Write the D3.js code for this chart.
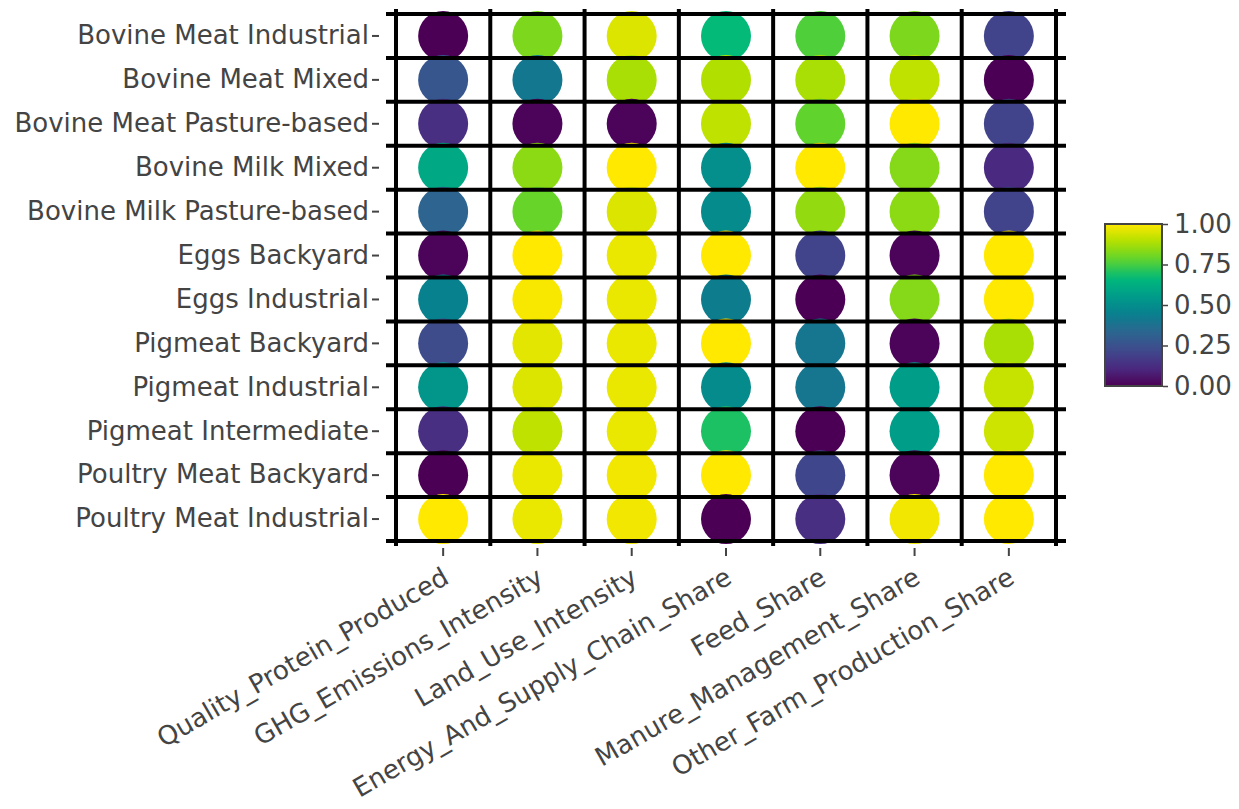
<!DOCTYPE html>
<html>
<head>
<meta charset="utf-8">
<script src="https://cdn.jsdelivr.net/npm/d3@7"></script>
<style>
  body { margin: 0; background: #fff; }
  text { font-family: Verdana, "DejaVu Sans", sans-serif; fill: #444; }
</style>
</head>
<body>
<svg id="chart" width="1239" height="809"></svg>
<script>
// rows (systems), top to bottom
const systems = [
  'Bovine Meat Industrial', 'Bovine Meat Mixed', 'Bovine Meat Pasture-based',
  'Bovine Milk Mixed', 'Bovine Milk Pasture-based', 'Eggs Backyard',
  'Eggs Industrial', 'Pigmeat Backyard', 'Pigmeat Industrial',
  'Pigmeat Intermediate', 'Poultry Meat Backyard', 'Poultry Meat Industrial'
];

const metrics = [
  'Quality_Protein_Produced', 'GHG_Emissions_Intensity', 'Land_Use_Intensity',
  'Energy_And_Supply_Chain_Share', 'Feed_Share', 'Manure_Management_Share',
  'Other_Farm_Production_Share'
];

// normalised scores, one array per metric, same order as systems
const qualityProtein = [0.00, 0.27, 0.13, 0.60, 0.33, 0.01, 0.45, 0.23, 0.53, 0.13, 0.00, 1.00];
const ghgIntensity   = [0.82, 0.41, 0.01, 0.84, 0.79, 1.00, 0.99, 0.96, 0.95, 0.91, 0.97, 0.97];
const landUse        = [0.95, 0.88, 0.01, 1.00, 0.95, 0.97, 0.97, 0.97, 0.97, 0.97, 0.98, 0.98];
const energySupply   = [0.67, 0.89, 0.91, 0.50, 0.49, 1.00, 0.43, 1.00, 0.49, 0.70, 1.00, 0.00];
const feedShare      = [0.76, 0.88, 0.78, 1.00, 0.85, 0.20, 0.00, 0.40, 0.40, 0.00, 0.21, 0.13];
const manureShare    = [0.82, 0.91, 1.00, 0.83, 0.84, 0.01, 0.83, 0.01, 0.56, 0.56, 0.01, 0.98];
const otherFarm      = [0.20, 0.00, 0.20, 0.11, 0.20, 1.00, 1.00, 0.88, 0.92, 0.93, 1.00, 1.00];

const columns = [qualityProtein, ghgIntensity, landUse, energySupply, feedShare, manureShare, otherFarm];

const cbTicks = [0, 0.25, 0.5, 0.75, 1];

// flatten into cells
const cells = [];
metrics.forEach((m, j) => {
  systems.forEach((s, i) => cells.push({ system: s, metric: m, value: columns[j][i] }));
});

const svg = d3.select('#chart');

const x = d3.scaleBand().domain(metrics).range([396, 1056]);
const y = d3.scaleBand().domain(systems).range([14, 541]);

// viridis, rendered a bit more saturated like the source image
const stops = ['#4b0055', '#4a2a80', '#3f4a8c', '#2c6690', '#08808e',
               '#009c8a', '#00b97a', '#5ed32e', '#b0e000', '#ffe900'];
const color = d3.scaleLinear()
  .domain(d3.range(stops.length).map(k => k / (stops.length - 1)))
  .range(stops)
  .interpolate(d3.interpolateRgb);

// dots
svg.append('g')
  .selectAll('circle')
  .data(cells)
  .join('circle')
  .attr('cx', d => x(d.metric) + x.bandwidth() / 2)
  .attr('cy', d => y(d.system) + y.bandwidth() / 2)
  .attr('r', 25)
  .attr('fill', d => color(d.value));

// grid lines on cell borders, drawn over the dots
const xEdges = metrics.map(m => x(m)).concat([x.range()[1]]);
const yEdges = systems.map(s => y(s)).concat([y.range()[1]]);
const grid = svg.append('g').attr('stroke', '#000').attr('stroke-width', 4);
grid.selectAll('.h')
  .data(yEdges)
  .join('line')
  .attr('class', 'h')
  .attr('x1', x.range()[0] - 10).attr('x2', x.range()[1] + 10)
  .attr('y1', d => d).attr('y2', d => d);
grid.selectAll('.v')
  .data(xEdges)
  .join('line')
  .attr('class', 'v')
  .attr('x1', d => d).attr('x2', d => d)
  .attr('y1', y.range()[0] - 5).attr('y2', y.range()[1] + 5);

// y axis
const yAxis = svg.append('g')
  .attr('transform', 'translate(379,0)')
  .call(d3.axisLeft(y).tickSize(7).tickPadding(3));
yAxis.select('.domain').remove();
yAxis.selectAll('.tick line').attr('stroke', '#444').attr('stroke-width', 2);
yAxis.selectAll('.tick text')
  .style('font-size', '26px')
  .attr('fill', '#444');

// x axis
const xAxis = svg.append('g')
  .attr('transform', 'translate(0,548)')
  .call(d3.axisBottom(x).tickSize(8).tickFormat(''));
xAxis.select('.domain').remove();
xAxis.selectAll('.tick line').attr('stroke', '#444').attr('stroke-width', 2);

svg.append('g')
  .selectAll('text')
  .data(metrics)
  .join('text')
  .attr('transform', d => `translate(${x(d) + x.bandwidth() / 2 - 2},566) rotate(-30)`)
  .attr('text-anchor', 'end')
  .attr('dy', '0.72em')
  .style('font-size', '26px')
  .text(d => d);

// colour bar
const cb = { x: 1105, y: 224, w: 57, h: 162 };
const defs = svg.append('defs');
const grad = defs.append('linearGradient')
  .attr('id', 'cbgrad')
  .attr('x1', 0).attr('y1', 1).attr('x2', 0).attr('y2', 0);
grad.selectAll('stop')
  .data(d3.range(0, 1.001, 0.05))
  .join('stop')
  .attr('offset', d => d)
  .attr('stop-color', d => color(d));

svg.append('rect')
  .attr('x', cb.x).attr('y', cb.y)
  .attr('width', cb.w).attr('height', cb.h)
  .attr('fill', 'url(#cbgrad)')
  .attr('stroke', '#444')
  .attr('stroke-width', 2);

const cbScale = d3.scaleLinear().domain([0, 1]).range([cb.y + cb.h, cb.y]);
const cbAxis = svg.append('g')
  .attr('transform', `translate(${cb.x + cb.w + 1},0)`)
  .call(d3.axisRight(cbScale).tickValues(cbTicks).tickFormat(d3.format('.2f')).tickSize(5).tickPadding(6));
cbAxis.select('.domain').remove();
cbAxis.selectAll('.tick line').attr('stroke', '#444').attr('stroke-width', 1.5);
cbAxis.selectAll('.tick text')
  .style('font-size', '26px')
  .attr('fill', '#000');
</script>
</body>
</html>
